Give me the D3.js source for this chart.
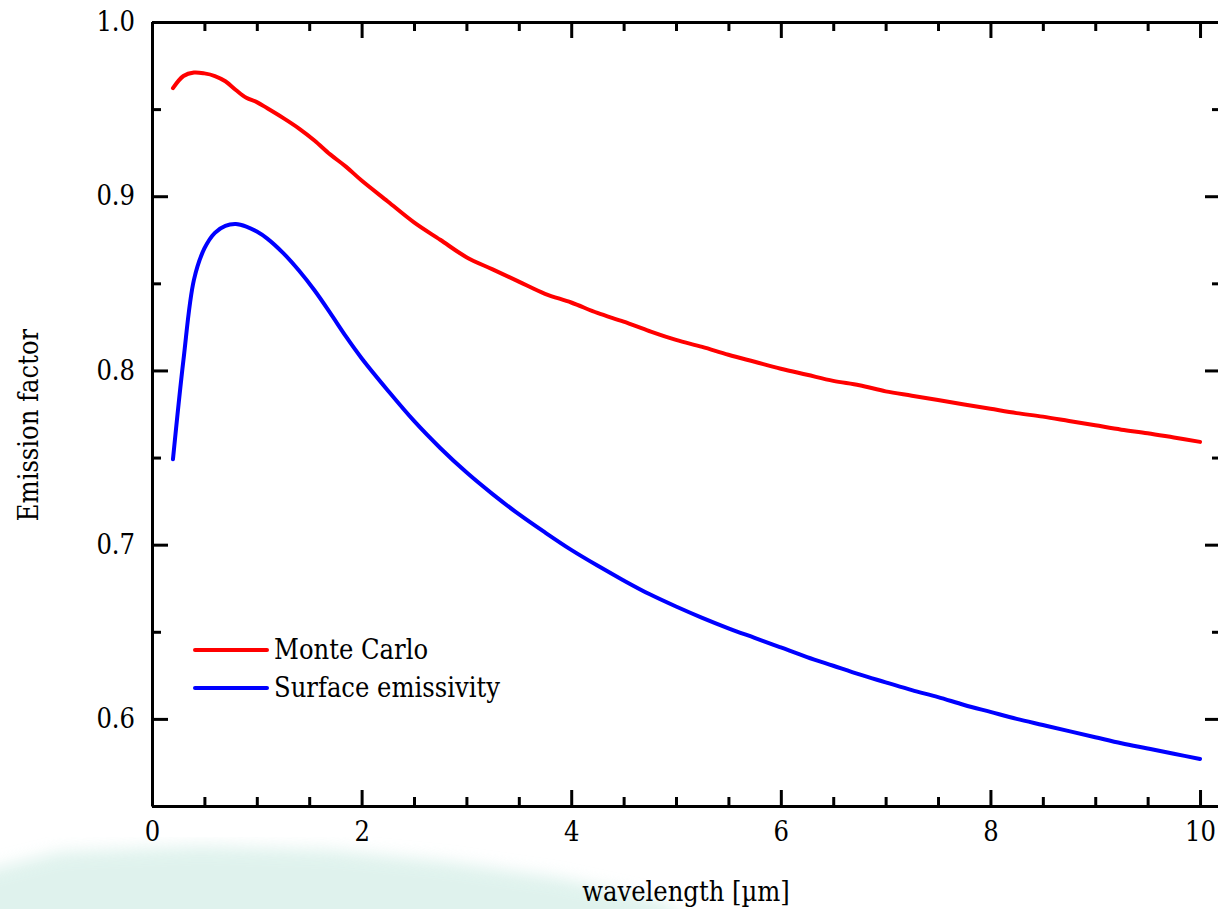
<!DOCTYPE html>
<html>
<head>
<meta charset="utf-8">
<script src="https://cdn.jsdelivr.net/npm/d3@7"></script>
<style>
    html, body { margin: 0; padding: 0; background: #fff; overflow: hidden; }
</style>
</head>
<body>
<div id="chart"></div>
<script>
// wavelength in um
var wavelength = [0.2, 0.3, 0.4, 0.5, 0.6, 0.7, 0.8, 0.9, 1.0, 1.1, 1.25, 1.4, 1.55, 1.7, 1.85, 2.0,
    2.25, 2.5, 2.75, 3.0, 3.25, 3.5, 3.75, 4.0, 4.25, 4.5, 4.75, 5.0, 5.25, 5.5, 5.75, 6.0,
    6.25, 6.5, 6.75, 7.0, 7.25, 7.5, 7.75, 8.0, 8.25, 8.5, 8.75, 9.0, 9.25, 9.5, 9.75, 10.0];

var monteCarlo = [0.962, 0.969, 0.971, 0.9705, 0.969, 0.966, 0.961, 0.9565, 0.954, 0.9505, 0.945, 0.939, 0.932, 0.924, 0.917, 0.909,
    0.897, 0.885, 0.875, 0.865, 0.858, 0.851, 0.844, 0.839, 0.833, 0.828, 0.8225, 0.8175, 0.8135, 0.809, 0.805, 0.801,
    0.7975, 0.794, 0.7915, 0.788, 0.7855, 0.783, 0.7805, 0.778, 0.7755, 0.7735, 0.771, 0.7685, 0.766, 0.764, 0.7615, 0.759];

var surfaceEmissivity = [0.749, 0.806, 0.852, 0.870, 0.879, 0.883, 0.884, 0.8826, 0.8797, 0.8757, 0.8675, 0.8575, 0.846, 0.833, 0.8195, 0.807,
    0.7885, 0.771, 0.7555, 0.7415, 0.729, 0.7175, 0.707, 0.697, 0.688, 0.6795, 0.6715, 0.6645, 0.658, 0.652, 0.6465, 0.641,
    0.6355, 0.6305, 0.6255, 0.621, 0.6165, 0.6125, 0.608, 0.604, 0.600, 0.5965, 0.593, 0.5895, 0.586, 0.583, 0.580, 0.577];

var seriesNames = ["Monte Carlo", "Surface emissivity"];
var seriesColors = ["#ff0000", "#0000ff"];

var xMajor = [0, 2, 4, 6, 8, 10];
var yMajor = [0.6, 0.7, 0.8, 0.9, 1.0];

var serif = "'DejaVu Serif Condensed', 'DejaVu Serif', serif";
var fontSize = "27px";

var svg = d3.select("#chart").append("svg").attr("width", 1218).attr("height", 909)
    .style("font-family", serif);

// faint watermark at the bottom of the picture
var defs = svg.append("defs");
defs.append("filter").attr("id", "blur").append("feGaussianBlur").attr("stdDeviation", 8);
svg.append("path")
    .attr("d", "M-20,930 L-20,872 L60,852 L200,846 L330,850 L450,862 L560,878 L660,900 L700,930 Z")
    .attr("fill", "#cfece4")
    .attr("opacity", 0.65)
    .attr("filter", "url(#blur)");

// Margins
var margin = { left: 152, top: 22 };
var width = 1069;   // right frame sits just past the window edge
var height = 784;

var chart = svg.append("g").attr("transform", "translate(" + margin.left + "," + margin.top + ")");

var x = d3.scaleLinear().domain([0, 10.2]).range([0, width]);
var y = d3.scaleLinear().domain([0.55, 1.0]).range([height, 0]);

var xMinor = d3.range(0, 10.01, 0.5).filter(d => xMajor.indexOf(d) < 0);
var yMinor = [0.55, 0.65, 0.75, 0.85, 0.95];

function styleAxis(g) {
    g.attr("font-family", serif).attr("font-size", fontSize);
    g.selectAll("path.domain").attr("stroke", "#000").attr("stroke-width", 3);
    g.selectAll(".tick line").attr("stroke", "#000").attr("stroke-width", 3);
    g.selectAll(".tick text").attr("fill", "#000");
}

// bottom axis
chart.append("g").attr("transform", "translate(0," + height + ")")
    .call(d3.axisBottom(x).tickValues(xMajor).tickSize(-16).tickSizeOuter(0).tickPadding(16).tickFormat(d3.format("d")))
    .call(styleAxis);
chart.append("g").attr("transform", "translate(0," + height + ")")
    .call(d3.axisBottom(x).tickValues(xMinor).tickSize(-9).tickFormat(""))
    .call(g => g.select(".domain").remove())
    .call(styleAxis);

// top axis
chart.append("g")
    .call(d3.axisTop(x).tickValues(xMajor).tickSize(-16).tickSizeOuter(0).tickFormat(""))
    .call(styleAxis);
chart.append("g")
    .call(d3.axisTop(x).tickValues(xMinor).tickSize(-9).tickFormat(""))
    .call(g => g.select(".domain").remove())
    .call(styleAxis);

// left axis
chart.append("g")
    .call(d3.axisLeft(y).tickValues(yMajor).tickSize(-16).tickSizeOuter(0).tickPadding(17).tickFormat(d3.format(".1f")))
    .call(styleAxis);
chart.append("g")
    .call(d3.axisLeft(y).tickValues(yMinor).tickSize(-9).tickFormat(""))
    .call(g => g.select(".domain").remove())
    .call(styleAxis);

// right axis
chart.append("g").attr("transform", "translate(" + width + ",0)")
    .call(d3.axisRight(y).tickValues(yMajor).tickSize(-16).tickSizeOuter(0).tickFormat(""))
    .call(styleAxis);
chart.append("g").attr("transform", "translate(" + width + ",0)")
    .call(d3.axisRight(y).tickValues(yMinor).tickSize(-9).tickFormat(""))
    .call(g => g.select(".domain").remove())
    .call(styleAxis);

// curves
var line = d3.line()
    .x((d, i) => x(wavelength[i]))
    .y(d => y(d))
    .curve(d3.curveCatmullRom.alpha(0.5));

[monteCarlo, surfaceEmissivity].forEach(function (values, i) {
    chart.append("path")
        .datum(values)
        .attr("fill", "none")
        .attr("stroke", seriesColors[i])
        .attr("stroke-width", 4)
        .attr("stroke-linejoin", "round")
        .attr("stroke-linecap", "round")
        .attr("d", line);
});

// legend
var legend = chart.append("g").attr("transform", "translate(" + (195 - margin.left) + "," + (650 - margin.top) + ")");
seriesNames.forEach(function (name, i) {
    var row = legend.append("g").attr("transform", "translate(0," + (i * 38) + ")");
    row.append("line").attr("x1", 0).attr("x2", 72).attr("y1", 0).attr("y2", 0)
        .attr("stroke", seriesColors[i]).attr("stroke-width", 4).attr("stroke-linecap", "round");
    row.append("text").attr("x", 79).attr("y", 0).attr("dy", "0.35em")
        .style("font-size", fontSize).text(name);
});

// axis titles
svg.append("text")
    .attr("x", 686).attr("y", 901)
    .attr("text-anchor", "middle")
    .style("font-size", fontSize)
    .text("wavelength [\u00b5m]");

svg.append("text")
    .attr("transform", "translate(38,425) rotate(-90)")
    .attr("text-anchor", "middle")
    .style("font-size", fontSize)
    .text("Emission factor");
</script>
</body>
</html>
